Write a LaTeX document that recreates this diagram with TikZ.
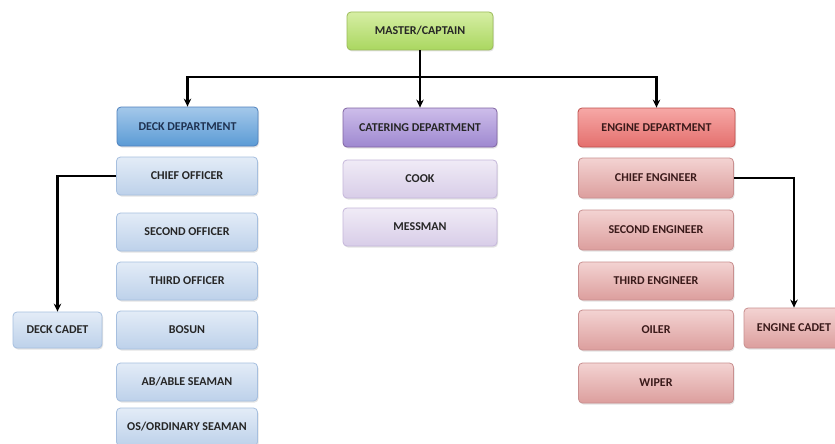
\documentclass[tikz,border=0pt]{standalone}
\usepackage{fontspec}
\setmainfont{Carlito}
\usetikzlibrary{shadows,arrows.meta}
\definecolor{mtop}{HTML}{D6EEA4}\definecolor{mbot}{HTML}{AAD760}\definecolor{mbrd}{HTML}{9BBB59}
\definecolor{dtop}{HTML}{A4C8EA}\definecolor{dbot}{HTML}{5B9BD5}\definecolor{dbrd}{HTML}{4F81BD}
\definecolor{dstop}{HTML}{E3ECF7}\definecolor{dsbot}{HTML}{BDD1EA}\definecolor{dsbrd}{HTML}{A6BFDF}
\definecolor{ctop}{HTML}{CDBDEA}\definecolor{cbot}{HTML}{9E88D0}\definecolor{cbrd}{HTML}{8064A2}
\definecolor{cstop}{HTML}{F0EBF6}\definecolor{csbot}{HTML}{D8CDE8}\definecolor{csbrd}{HTML}{C5B7DA}
\definecolor{etop}{HTML}{F6A8A6}\definecolor{ebot}{HTML}{E46F6D}\definecolor{ebrd}{HTML}{C0504D}
\definecolor{estop}{HTML}{F3D3D2}\definecolor{esbot}{HTML}{DC9E9D}\definecolor{esbrd}{HTML}{C99090}
\definecolor{txt}{HTML}{262626}\definecolor{dtxt}{HTML}{1F3251}\definecolor{etxt}{HTML}{3A1A1A}
\tikzset{
  box/.style={rounded corners=4pt, draw, line width=0.8pt, align=center,
    font=\bfseries\fontsize{12}{14}\selectfont, text=txt,
    drop shadow={opacity=0.22, shadow xshift=1pt, shadow yshift=-1.5pt},
    minimum height=38pt, inner sep=2pt},
  masterbox/.style={box, top color=mtop, bottom color=mbot, draw=mbrd, minimum width=146pt},
  deckhead/.style={box, top color=dtop, bottom color=dbot, draw=dbrd, text=dtxt, minimum width=141pt},
  decksub/.style={box, top color=dstop, bottom color=dsbot, draw=dsbrd, minimum width=141pt},
  cathead/.style={box, top color=ctop, bottom color=cbot, draw=cbrd, minimum width=154pt},
  catsub/.style={box, top color=cstop, bottom color=csbot, draw=csbrd, minimum width=154pt},
  enghead/.style={box, top color=etop, bottom color=ebot, draw=ebrd, text=etxt, minimum width=157pt},
  engsub/.style={box, top color=estop, bottom color=esbot, draw=esbrd, text=etxt, minimum width=155pt},
  conn/.style={line width=2.6pt, black, -{Stealth[length=8pt,width=7.5pt]}},
}
\begin{document}
\begin{tikzpicture}[x=1pt,y=-1pt]
\useasboundingbox (0,0) rectangle (835,444);
\fill[white] (0,0) rectangle (835,444);
\node[masterbox] (master) at (420,31) {MASTER/CAPTAIN};
\node[deckhead, minimum height=39pt] (deck) at (187.5,126.5) {DECK DEPARTMENT};
\node[decksub] (co) at (187,176) {CHIEF OFFICER};
\node[decksub] (so) at (187,232) {SECOND OFFICER};
\node[decksub] (to) at (187,281) {THIRD OFFICER};
\node[decksub] (bosun) at (187,330) {BOSUN};
\node[decksub] (ab) at (187,382) {AB/ABLE SEAMAN};
\node[decksub] (os) at (187,427) {OS/ORDINARY SEAMAN};
\node[decksub, minimum width=89pt, minimum height=36pt] (cadet) at (57.5,330) {DECK CADET};
\node[cathead, minimum height=39pt] (cat) at (420,127.5) {CATERING DEPARTMENT};
\node[catsub] (cook) at (420,179) {COOK};
\node[catsub] (mess) at (420,227) {MESSMAN};
\node[enghead, minimum height=39pt] (eng) at (656.5,127.5) {ENGINE DEPARTMENT};
\node[engsub, minimum height=40pt] (ce) at (656,178) {CHIEF ENGINEER};
\node[engsub, minimum height=40pt] (se) at (656,230) {SECOND ENGINEER};
\node[engsub] (te) at (656,281) {THIRD ENGINEER};
\node[engsub, minimum height=40pt] (oiler) at (656,330) {OILER};
\node[engsub, minimum height=40pt] (wiper) at (656,383) {WIPER};
\node[engsub, minimum width=100pt, minimum height=40pt] (ecadet) at (794,328) {ENGINE CADET};
\coordinate (j) at (420,77);
\draw[conn] (master.south) -- (cat.north);
\draw[conn] (j) -| (deck.north);
\draw[conn] (j) -| (eng.north);
\draw[conn] (co.west) -| (cadet.north);
\draw[conn] (ce.east) -| (ecadet.north);
\end{tikzpicture}
\end{document}
